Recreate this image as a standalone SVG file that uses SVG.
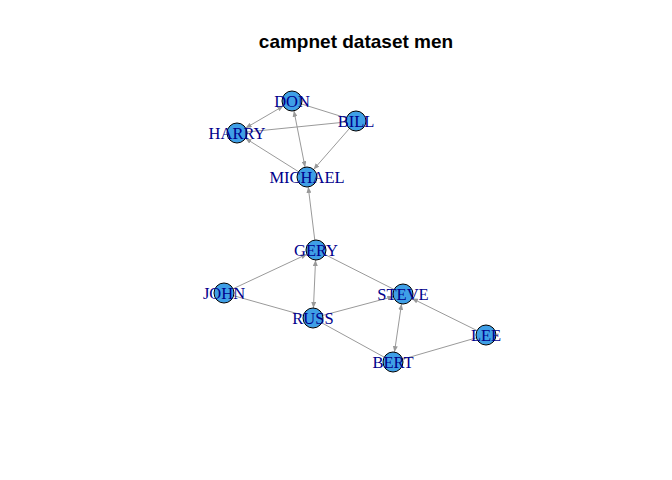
<svg xmlns="http://www.w3.org/2000/svg" width="672" height="480" viewBox="0 0 672 480">
<defs>
<marker id="ah" viewBox="0 0 10 10" refX="10" refY="5" markerWidth="6" markerHeight="5" markerUnits="userSpaceOnUse" orient="auto-start-reverse" preserveAspectRatio="none">
<path d="M0,0 L10,5 L0,10 z" fill="#999999"/>
</marker>
</defs>
<style>
.e{stroke:#9a9a9a;stroke-width:1;fill:none}
.a{marker-end:url(#ah)}
.b{marker-start:url(#ah);marker-end:url(#ah)}
.n circle{fill:#3f9fe6;stroke:#000;stroke-width:1}
.n text{font-family:"Liberation Serif",serif;font-size:16.5px;fill:#00008b;text-anchor:middle;dominant-baseline:central}
.t{font-family:"Liberation Sans",Arial,sans-serif;font-size:19px;font-weight:bold;text-anchor:middle}
</style>
<rect width="672" height="480" fill="#fff"/>
<text class="t" x="356" y="48">campnet dataset men</text>
<g id="edges">
<line class="e b" x1="283.35" y1="106.03" x2="245.65" y2="127.97"/>
<line class="e" x1="292" y1="101" x2="356" y2="121"/>
<line class="e" x1="356" y1="121" x2="237" y2="133"/>
<line class="e b" x1="293.94" y1="110.81" x2="305.06" y2="167.19"/>
<line class="e a" x1="307" y1="177" x2="245.47" y2="138.32"/>
<line class="e a" x1="356" y1="121" x2="313.59" y2="169.47"/>
<line class="e a" x1="316" y1="250" x2="308.22" y2="186.93"/>
<line class="e b" x1="315.56" y1="259.99" x2="313.44" y2="308.01"/>
<line class="e a" x1="224" y1="293" x2="306.94" y2="254.23"/>
<line class="e" x1="224" y1="293" x2="313" y2="318"/>
<line class="e" x1="316" y1="250" x2="403" y2="294"/>
<line class="e a" x1="313" y1="318" x2="393.34" y2="296.58"/>
<line class="e b" x1="401.55" y1="303.89" x2="394.46" y2="352.11"/>
<line class="e a" x1="486" y1="335" x2="411.97" y2="298.43"/>
<line class="e" x1="486" y1="335" x2="393" y2="362"/>
<line class="e" x1="313" y1="318" x2="393" y2="362"/>
</g>
<g id="DON" class="n"><circle cx="292" cy="101" r="10"/><text x="292" y="101">DON</text></g>
<g id="BILL" class="n"><circle cx="356" cy="121" r="10"/><text x="356" y="121">BILL</text></g>
<g id="HARRY" class="n"><circle cx="237" cy="133" r="10"/><text x="237" y="133">HARRY</text></g>
<g id="MICHAEL" class="n"><circle cx="307" cy="177" r="10"/><text x="307" y="177">MICHAEL</text></g>
<g id="GERY" class="n"><circle cx="316" cy="250" r="10"/><text x="316" y="250">GERY</text></g>
<g id="JOHN" class="n"><circle cx="224" cy="293" r="10"/><text x="224" y="293">JOHN</text></g>
<g id="RUSS" class="n"><circle cx="313" cy="318" r="10"/><text x="313" y="318">RUSS</text></g>
<g id="STEVE" class="n"><circle cx="403" cy="294" r="10"/><text x="403" y="294">STEVE</text></g>
<g id="LEE" class="n"><circle cx="486" cy="335" r="10"/><text x="486" y="335">LEE</text></g>
<g id="BERT" class="n"><circle cx="393" cy="362" r="10"/><text x="393" y="362">BERT</text></g>
</svg>
